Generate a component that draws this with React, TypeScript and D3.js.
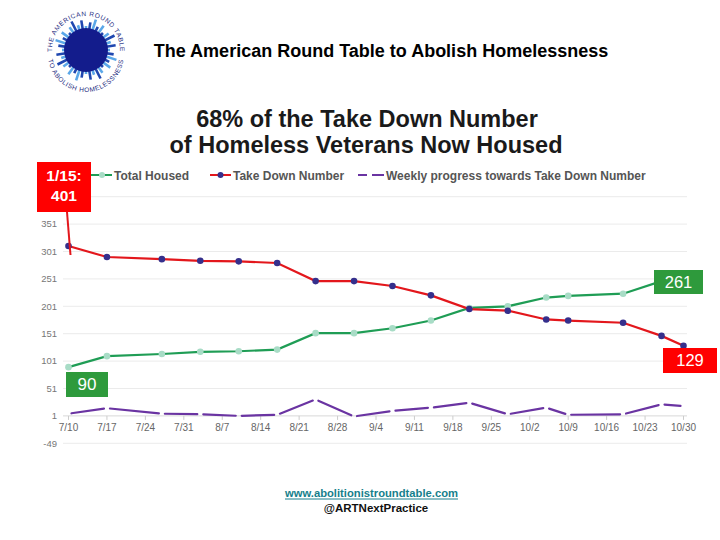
import { useMemo } from 'react';
import * as d3 from 'd3';

// weekly report dates (year is arbitrary, only month/day matter)
const reportDates = ['07-10', '07-17', '07-27', '08-03', '08-10', '08-17', '08-24', '08-31', '09-07',
  '09-14', '09-21', '09-28', '10-05', '10-09', '10-19', '10-26', '10-30'];
const totalHoused = [90, 110, 114, 118, 119, 122, 152, 152, 161, 175, 198, 201, 217, 220, 224, 247, 261];
const takeDown = [311, 291, 287, 284, 283, 280, 247, 247, 238, 221, 196, 193, 177, 175, 171, 147, 129];
const weeklyProgress = [5, 15, 5, 4, 1, 3, 31, 0, 10, 16, 25, 4, 16, 3, 4, 22, 19];

const xTickLabels = ['7/10', '7/17', '7/24', '7/31', '8/7', '8/14', '8/21', '8/28', '9/4', '9/11',
  '9/18', '9/25', '10/2', '10/9', '10/16', '10/23', '10/30'];
const yTicks = [-49, 1, 51, 101, 151, 201, 251, 301, 351, 401];

const FONT = '"Liberation Sans", Arial, sans-serif';
const GREEN = '#1f9d55';
const RED = '#e3171c';
const NAVY = '#352f8c';
const PURPLE = '#6a34a2';

const parse = (md: string) => new Date(`2020-${md}T00:00:00Z`);
const labelDate = (l: string) => {
  const [m, d] = l.split('/');
  return parse(`${m.padStart(2, '0')}-${d.padStart(2, '0')}`);
};

const Logo = () => {
  const cx = 86, cy = 50;
  const rays = d3.range(40).map((i) => {
    const a = (i / 40) * Math.PI * 2;
    const len = 4 + ((i * 7) % 5) * 2;
    return { a, len, light: i % 2 === 0 };
  });
  const topArc = `M ${cx - 34} ${cy} A 34 34 0 0 1 ${cx + 34} ${cy}`;
  const botArc = `M ${cx - 38} ${cy + 4} A 38 38 0 0 0 ${cx + 38} ${cy + 4}`;
  return (
    <g>
      <defs>
        <path id="logoTop" d={topArc} />
        <path id="logoBot" d={botArc} />
      </defs>
      {rays.map((r, i) => (
        <line key={i}
          x1={cx + Math.cos(r.a) * 14} y1={cy + Math.sin(r.a) * 14}
          x2={cx + Math.cos(r.a) * (20 + r.len)} y2={cy + Math.sin(r.a) * (20 + r.len)}
          stroke={r.light ? '#5aa7e8' : '#1f47b0'} strokeWidth={2.6} />
      ))}
      <circle cx={cx} cy={cy} r={22} fill="#131c8c" />
      <text fontFamily={FONT} fontSize={6.5} fill="#1c2a80" letterSpacing={0.6}>
        <textPath href="#logoTop" startOffset="50%" textAnchor="middle">THE AMERICAN ROUND TABLE</textPath>
      </text>
      <text fontFamily={FONT} fontSize={6.5} fill="#1c2a80" letterSpacing={0.6}>
        <textPath href="#logoBot" startOffset="50%" textAnchor="middle">TO ABOLISH HOMELESSNESS</textPath>
      </text>
    </g>
  );
};

const App = () => {
  const dates = reportDates.map(parse);
  const tickDates = xTickLabels.map(labelDate);

  const x = useMemo(() => d3.scaleUtc()
    .domain([tickDates[0], tickDates[tickDates.length - 1]])
    .range([68.5, 683.5]), []);
  const y = useMemo(() => d3.scaleLinear().domain([-49, 401]).range([443.3, 196.7]), []);

  const line = d3.line<number>().x((_, i) => x(dates[i])).y((v) => y(v));
  const housedPath = line(totalHoused) || '';
  const takeDownPath = line(takeDown) || '';

  // dashed weekly series: each segment drawn with a small gap at both ends
  const weeklySegs = weeklyProgress.slice(1).map((v, i) => {
    const x0 = x(dates[i]), y0 = y(weeklyProgress[i]);
    const x1 = x(dates[i + 1]), y1 = y(v);
    const len = Math.hypot(x1 - x0, y1 - y0);
    const g = 3 / len;
    return {
      x1: x0 + (x1 - x0) * g, y1: y0 + (y1 - y0) * g,
      x2: x1 - (x1 - x0) * g, y2: y1 - (y1 - y0) * g,
    };
  });

  const baseY = y(1);
  const last = dates.length - 1;
  const topTick = yTicks[yTicks.length - 1];

  return (
    <svg width={720} height={540} style={{ position: 'absolute', left: 0, top: 0, background: '#fff' }}>
      <Logo />
      <text x={381} y={57} textAnchor="middle" fontFamily={FONT} fontWeight="bold" fontSize={18} fill="#000">
        The American Round Table to Abolish Homelessness
      </text>
      <text x={367} y={127} textAnchor="middle" fontFamily={FONT} fontWeight="bold" fontSize={23.5} fill="#1a1a1a">
        68% of the Take Down Number
      </text>
      <text x={366} y={153} textAnchor="middle" fontFamily={FONT} fontWeight="bold" fontSize={23.5} fill="#1a1a1a">
        of Homeless Veterans Now Housed
      </text>

      {/* legend */}
      <g fontFamily={FONT} fontWeight="bold" fontSize={12} fill="#555">
        <line x1={91} x2={112} y1={175} y2={175} stroke={GREEN} strokeWidth={2} />
        <circle cx={102} cy={175} r={3} fill="#a8dcc6" />
        <text x={114} y={179.5}>Total Housed</text>
        <line x1={210} x2={231} y1={175} y2={175} stroke={RED} strokeWidth={2} />
        <circle cx={220.5} cy={175} r={3} fill={NAVY} />
        <text x={233} y={179.5}>Take Down Number</text>
        <line x1={358} x2={367} y1={175} y2={175} stroke={PURPLE} strokeWidth={2} />
        <line x1={372} x2={384} y1={175} y2={175} stroke={PURPLE} strokeWidth={2} />
        <text x={386} y={179.5}>Weekly progress towards Take Down Number</text>
      </g>

      {/* grid + y axis (top label sits under the 1/15 box, so it is not drawn) */}
      {yTicks.map((t) => (
        <g key={t}>
          <line x1={63} x2={687} y1={y(t)} y2={y(t)} stroke={t === 1 ? '#d8d8d8' : '#ebebeb'} strokeWidth={1} />
          {t !== topTick && (
            <text x={57} y={y(t)} dy="0.35em" textAnchor="end" fontFamily={FONT} fontSize={9.5} fill="#777">{t}</text>
          )}
        </g>
      ))}

      {/* x axis */}
      {tickDates.map((d, i) => (
        <g key={i}>
          <line x1={x(d)} x2={x(d)} y1={baseY} y2={baseY + 4} stroke="#ccc" />
          <text x={x(d)} y={427} dy="0.35em" textAnchor="middle" fontFamily={FONT} fontSize={10} fill="#666">
            {xTickLabels[i]}
          </text>
        </g>
      ))}

      {/* weekly progress */}
      {weeklySegs.map((s, i) => (
        <line key={i} {...s} stroke={PURPLE} strokeWidth={2.2} strokeLinecap="round" />
      ))}

      {/* total housed */}
      <path d={housedPath} fill="none" stroke={GREEN} strokeWidth={2.2} />
      {totalHoused.map((v, i) => (
        <circle key={i} cx={x(dates[i])} cy={y(v)} r={3.3} fill="#a8dcc6" />
      ))}

      {/* take down number */}
      <path d={takeDownPath} fill="none" stroke={RED} strokeWidth={2.2} />
      {takeDown.map((v, i) => (
        <circle key={i} cx={x(dates[i])} cy={y(v)} r={3.3} fill={NAVY} />
      ))}

      {/* annotations */}
      <line x1={67} y1={212} x2={70.5} y2={255} stroke={RED} strokeWidth={2} />
      <rect x={37} y={162} width={54} height={50} fill="#ff0000" />
      <text x={64} y={181} textAnchor="middle" fontFamily={FONT} fontWeight="bold" fontSize={15.5} fill="#fff">1/15:</text>
      <text x={64} y={201} textAnchor="middle" fontFamily={FONT} fontWeight="bold" fontSize={15.5} fill="#fff">{topTick}</text>

      <rect x={66} y={372} width={42} height={25} fill="#2e9a3c" />
      <text x={87} y={384.5} dy="0.35em" textAnchor="middle" fontFamily={FONT} fontSize={17} fill="#fff">{totalHoused[0]}</text>

      <rect x={654} y={270} width={49} height={24} fill="#2e9a3c" />
      <text x={678.5} y={282} dy="0.35em" textAnchor="middle" fontFamily={FONT} fontSize={16.5} fill="#fff">{totalHoused[last]}</text>

      <rect x={663} y={348} width={54} height={25} fill="#ff0000" />
      <text x={690} y={360.5} dy="0.35em" textAnchor="middle" fontFamily={FONT} fontSize={16.5} fill="#fff">{takeDown[last]}</text>

      {/* footer */}
      <text x={371.5} y={497} textAnchor="middle" fontFamily={FONT} fontWeight="bold" fontSize={11.5}
        fill="#167f8c" textLength={173} lengthAdjust="spacingAndGlyphs">
        www.abolitionistroundtable.com
      </text>
      <line x1={285} x2={458} y1={499} y2={499} stroke="#167f8c" strokeWidth={1} />
      <text x={376} y={512} textAnchor="middle" fontFamily={FONT} fontWeight="bold" fontSize={11.5} fill="#111">
        @ARTNextPractice
      </text>
    </svg>
  );
};

export default App;
